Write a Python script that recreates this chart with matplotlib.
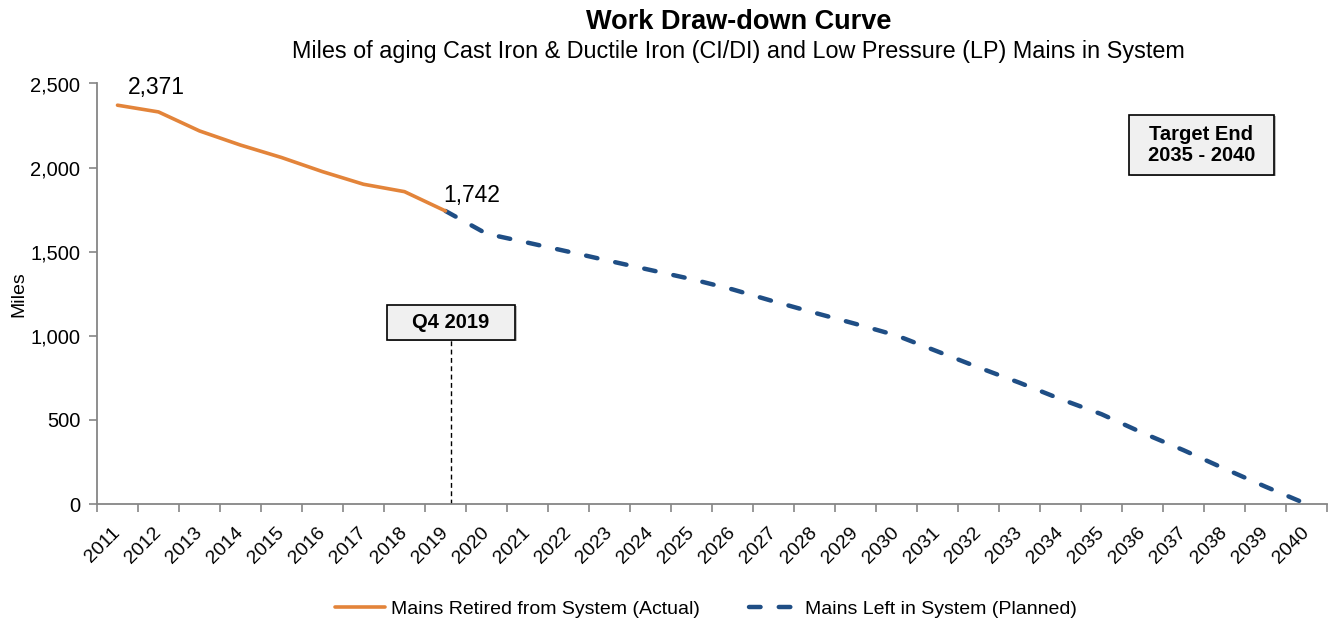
import numpy as np
import matplotlib
matplotlib.use('Agg')
from matplotlib import pyplot as plt
from matplotlib.patches import Rectangle

plt.rcParams['font.family'] = ['Liberation Sans', 'DejaVu Sans']

years = list(range(2011, 2041))
actual_years = list(range(2011, 2020))
actual_miles = [2371, 2331, 2218, 2134, 2060, 1976, 1901, 1857, 1742]
planned_years = list(range(2019, 2041))
planned_miles = [1742, 1607, 1554, 1500, 1445, 1391, 1337, 1276, 1205, 1137,
                 1071, 1002, 907, 812, 721, 624, 534, 423, 320, 210, 103, 0]
y_ticks = [0, 500, 1000, 1500, 2000, 2500]

orange = '#E3843A'
blue = '#1F4E85'
grey = '#868686'

fig = plt.figure(figsize=(13.29, 6.24), dpi=100)
ax = fig.add_axes([97 / 1329, 1 - 504 / 624, 1230 / 1329, 420.5 / 624])

xa = [years.index(y) for y in actual_years]
xp = [years.index(y) for y in planned_years]

ax.plot(xp, planned_miles, color=blue, lw=3.2, dashes=(2.6, 4.1),
        dash_capstyle='round', label='Mains Left in System (Planned)', zorder=3)
ax.plot(xa, actual_miles, color=orange, lw=2.6, solid_capstyle='round',
        label='Mains Retired from System (Actual)', zorder=4)

# data labels
ax.annotate(f'{actual_miles[0]:,}', (xa[0], actual_miles[0]), xytext=(28, 12.5),
            textcoords='offset points', ha='center', va='center', fontsize=16.5)
ax.annotate(f'{actual_miles[-1]:,}', (xa[-1], actual_miles[-1]), xytext=(18.5, 11.5),
            textcoords='offset points', ha='center', va='center', fontsize=16.5)

# Q4 2019 marker
q4_x = 8.13
ax.plot([q4_x, q4_x], [0, 978], color='black', lw=1, ls=(0, (3.5, 2.5)), zorder=2)
ax.add_patch(Rectangle((6.566 + 0.05, 978 - 8), 3.13, 206, facecolor='#bfbfbf',
                       edgecolor='none', zorder=4))
ax.add_patch(Rectangle((6.566, 978), 3.13, 206, facecolor='#f0f0f0',
                       edgecolor='black', lw=1.2, zorder=5))
ax.text(q4_x, 1081, 'Q4 2019', ha='center', va='center', fontsize=14.5,
        fontweight='bold', zorder=6)

# Target end box
ax.add_patch(Rectangle((24.67 + 0.05, 1956 - 8), 3.53, 358, facecolor='#bfbfbf',
                       edgecolor='none', zorder=4))
ax.add_patch(Rectangle((24.67, 1956), 3.53, 358, facecolor='#f0f0f0',
                       edgecolor='black', lw=1.2, zorder=5))
ax.text(26.435, 2135, 'Target End\n2035 - 2040', ha='center', va='center',
        fontsize=14.5, fontweight='bold', linespacing=1.1, zorder=6)

ax.set_xlim(-0.5, len(years) - 0.5)
ax.set_ylim(0, 2500)
ax.set_yticks(y_ticks)
ax.set_yticklabels([f'{v:,}' for v in y_ticks], fontsize=14.5)
ax.set_xticks(range(len(years)))
ax.set_xticklabels([str(y) for y in years], rotation=45, ha='right', va='center',
                   rotation_mode='anchor', fontsize=14)
ax.set_xticks(np.arange(-0.5, len(years)), minor=True)
ax.tick_params(axis='x', which='major', length=0, pad=19)
ax.tick_params(axis='x', which='minor', length=6, color=grey, width=1.2)
ax.tick_params(axis='y', length=6, color=grey, width=1.2, pad=6)

for side in ['top', 'right']:
    ax.spines[side].set_visible(False)
for side in ['left', 'bottom']:
    ax.spines[side].set_color(grey)
    ax.spines[side].set_linewidth(1.3)

ax.set_ylabel('Miles', fontsize=14)
ax.yaxis.set_label_coords(-0.057, 0.5)

fig.text(0.5557, 0.965, 'Work Draw-down Curve', ha='center', va='center',
         fontsize=19.5, fontweight='bold')
fig.text(0.5553, 0.917, 'Miles of aging Cast Iron & Ductile Iron (CI/DI) and Low Pressure (LP) Mains in System',
         ha='center', va='center', fontsize=16.8)

handles, labels = ax.get_legend_handles_labels()
fig.legend(handles[::-1], labels[::-1], loc='center', bbox_to_anchor=(0.531, 0.024),
           ncol=2, frameon=False, fontsize=14, handlelength=2.6,
           handletextpad=0.3, columnspacing=2.5)

fig.savefig('out.png', dpi=100)
